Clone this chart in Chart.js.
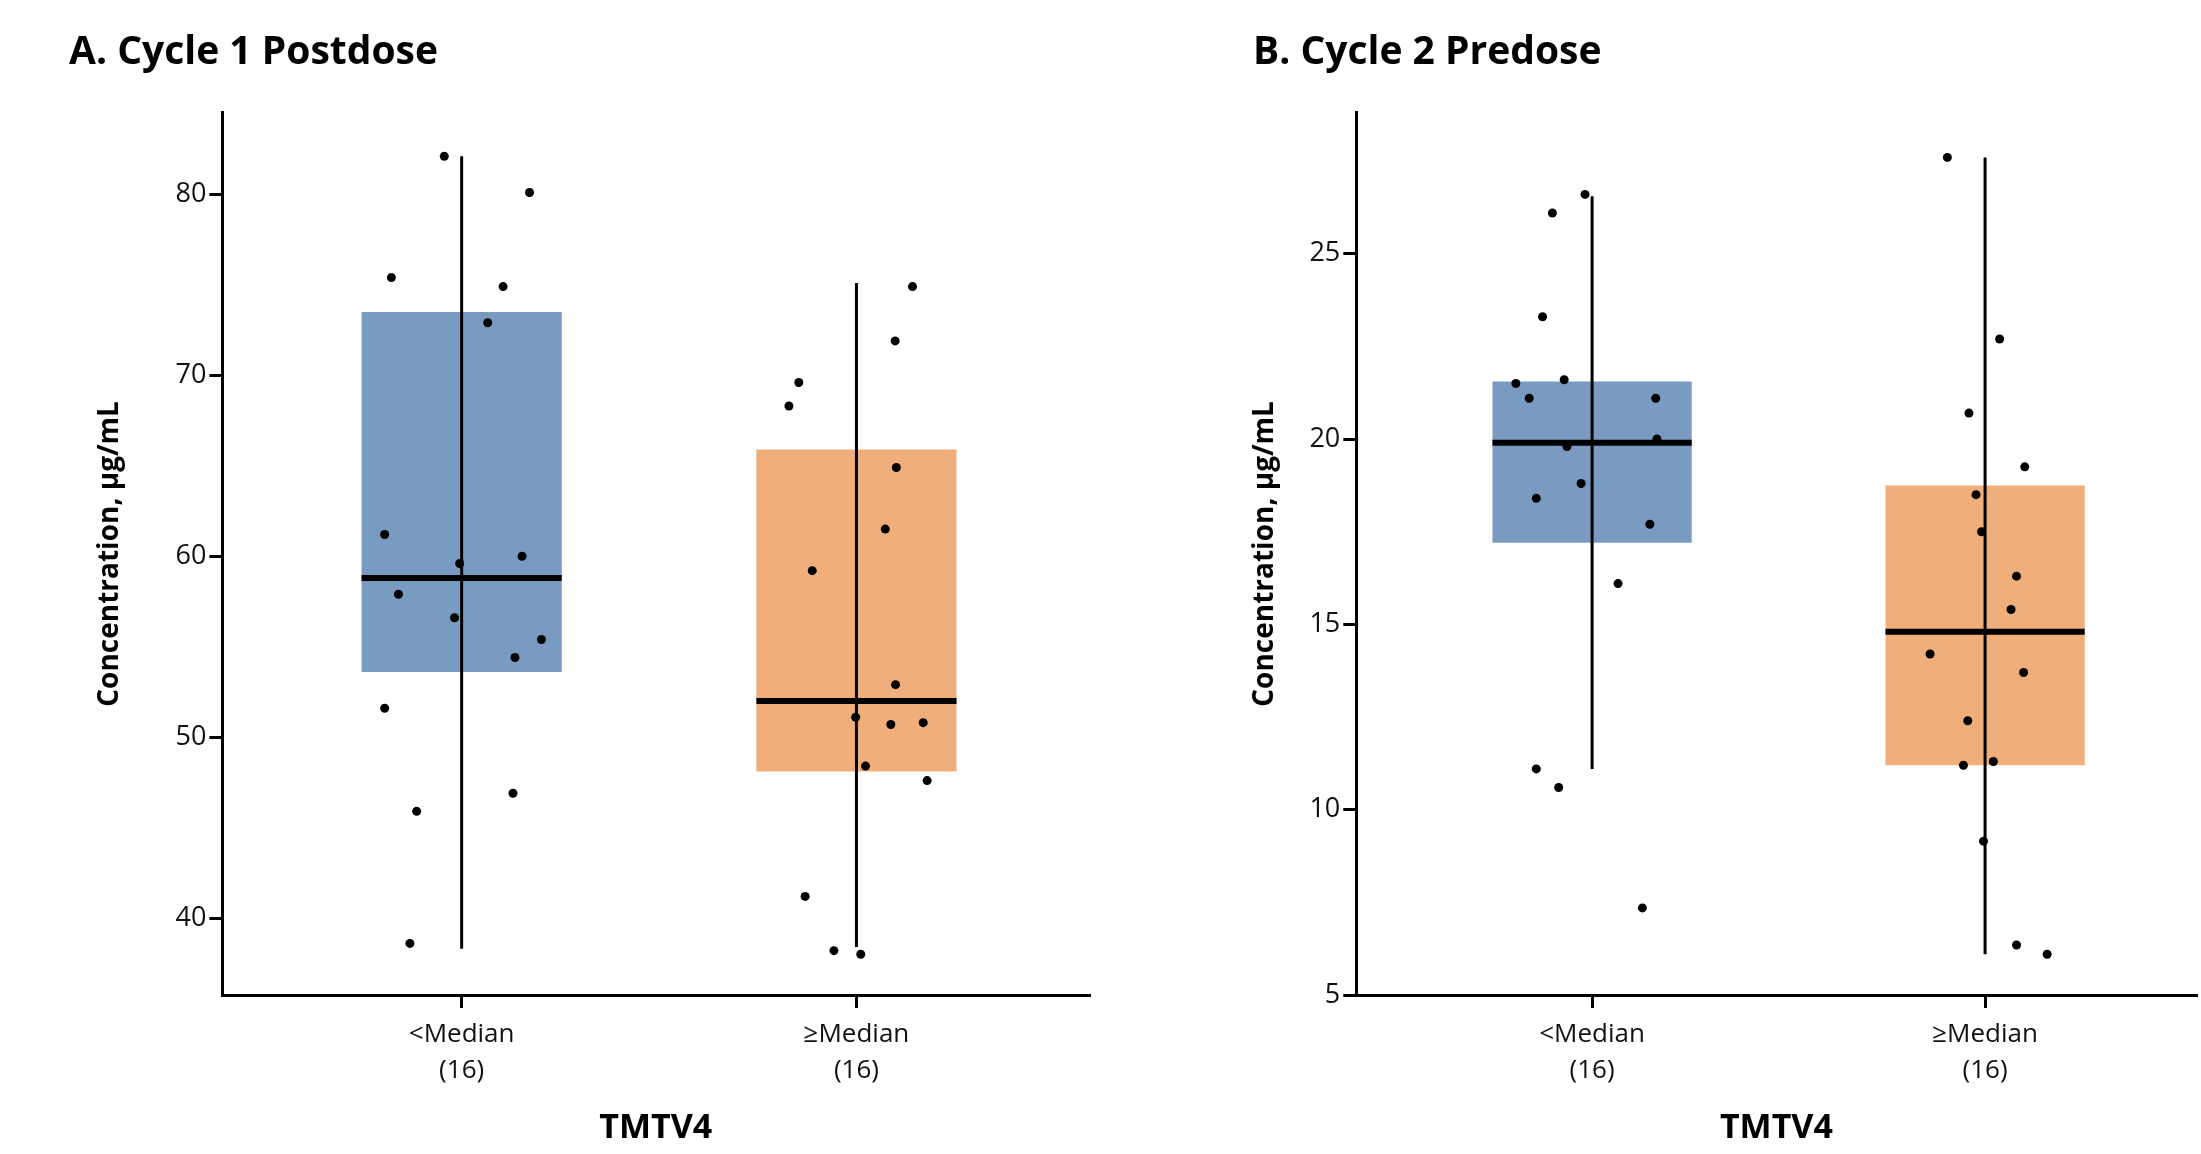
<!DOCTYPE html>
<html>
<head>
<meta charset="utf-8">
<script src="https://cdn.jsdelivr.net/npm/chart.js@4.4.1/dist/chart.umd.min.js"></script>
<style>
  html, body { margin: 0; padding: 0; background: #fff; }
  body { width: 2201px; height: 1154px; position: relative; overflow: hidden; }
  canvas { position: absolute; top: 0; }
  #chartA { left: 0; }
  #chartB { left: 1100px; }
</style>
</head>
<body>
<canvas id="chartA" width="1100" height="1154"></canvas>
<canvas id="chartB" width="1101" height="1154"></canvas>
<script>
// categories on the x axis (numeric slots 1 and 2)
const groupLabels = [['<Median', '(16)'], ['≥Median', '(16)']];
const groupPos = [1, 2];
const boxColors = ['#7A9BC1', '#F0AE7B'];

// A. Cycle 1 postdose, µg/mL
const ptsA_low  = [82.1, 80.1, 75.4, 74.9, 72.9, 61.2, 60.0, 59.6, 57.9, 56.6, 55.4, 54.4, 51.6, 46.9, 45.9, 38.6];
const jitA_low  = [-0.044, 0.172, -0.178, 0.105, 0.066, -0.195, 0.153, -0.005, -0.160, -0.018, 0.202, 0.135, -0.195, 0.130, -0.114, -0.131];
const ptsA_high = [74.9, 71.9, 69.6, 68.3, 64.9, 61.5, 59.2, 52.9, 51.1, 50.8, 50.7, 48.4, 47.6, 41.2, 38.2, 38.0];
const jitA_high = [0.142, 0.098, -0.146, -0.171, 0.101, 0.073, -0.112, 0.099, -0.002, 0.169, 0.087, 0.023, 0.179, -0.130, -0.057, 0.011];
const q1A = [53.6, 48.1];
const q3A = [73.5, 65.9];
const medA = [58.8, 52.0];
const whiskLoA = [38.3, 38.4];
const whiskHiA = [82.1, 75.1];
const yTicksA = [40, 50, 60, 70, 80];

// B. Cycle 2 predose, µg/mL
const ptsB_low  = [26.6, 26.1, 23.3, 21.6, 21.5, 21.1, 21.1, 20.0, 19.8, 18.8, 18.4, 17.7, 16.1, 11.1, 10.6, 7.35];
const jitB_low  = [-0.018, -0.101, -0.126, -0.071, -0.194, -0.160, 0.162, 0.165, -0.064, -0.028, -0.142, 0.147, 0.066, -0.142, -0.085, 0.128];
const ptsB_high = [27.6, 22.7, 20.7, 19.25, 18.5, 17.5, 16.3, 15.4, 14.2, 13.7, 12.4, 11.3, 11.2, 9.15, 6.35, 6.1];
const jitB_high = [-0.096, 0.037, -0.041, 0.101, -0.023, -0.009, 0.080, 0.066, -0.140, 0.098, -0.044, 0.021, -0.055, -0.004, 0.080, 0.158];
const q1B = [17.2, 11.2];
const q3B = [21.55, 18.75];
const medB = [19.9, 14.8];
const whiskLoB = [11.1, 6.1];
const whiskHiB = [26.55, 27.6];
const yTicksB = [5, 10, 15, 20, 25];

const FONT = '"Open Sans", Lato, sans-serif';
const BOX_FRAC = 0.507;          // box width as share of slot spacing
const HALF = BOX_FRAC / 2;

function makePanel(canvasId, cfg) {
  const datasets = [];

  // boxes (q1..q3) as floating bars
  datasets.push({
    type: 'bar',
    data: groupPos.map((x, i) => ({ x: x, y: [cfg.q1[i], cfg.q3[i]] })),
    backgroundColor: boxColors,
    borderWidth: 0,
    barPercentage: BOX_FRAC,
    categoryPercentage: 1,
    order: 3
  });

  groupPos.forEach((x, i) => {
    // whisker
    datasets.push({
      type: 'line',
      data: [{ x: x, y: cfg.lo[i] }, { x: x, y: cfg.hi[i] }],
      borderColor: '#000',
      borderWidth: 3,
      pointRadius: 0,
      order: 2
    });
    // median bar
    datasets.push({
      type: 'line',
      data: [{ x: x - HALF, y: cfg.med[i] }, { x: x + HALF, y: cfg.med[i] }],
      borderColor: '#000',
      borderWidth: 6,
      pointRadius: 0,
      order: 1
    });
    // individual patients
    datasets.push({
      type: 'scatter',
      data: cfg.pts[i].map((v, k) => ({ x: x + cfg.jit[i][k], y: v })),
      backgroundColor: '#000',
      borderWidth: 0,
      pointRadius: 4.5,
      order: 0
    });
  });

  return new Chart(document.getElementById(canvasId), {
    type: 'bar',
    data: { datasets: datasets },
    options: {
      responsive: false,
      animation: false,
      layout: { padding: { left: cfg.padLeft, right: cfg.padRight, top: 0, bottom: 0 } },
      plugins: {
        legend: { display: false },
        tooltip: { enabled: false },
        title: {
          display: true,
          text: cfg.title,
          align: 'start',
          color: '#000',
          font: { family: FONT, size: 39, weight: 'bold', lineHeight: 1.2 },
          padding: { top: 29, bottom: 37.1 }
        }
      },
      scales: {
        x: {
          type: 'linear',
          min: cfg.xMin,
          max: cfg.xMax,
          offset: false,
          afterBuildTicks: s => { s.ticks = groupPos.map(v => ({ value: v })); },
          afterFit: s => { s.height = 159; },
          border: { display: true, color: '#000', width: 3 },
          grid: { display: true, drawOnChartArea: false, drawTicks: true, tickLength: 13, color: '#000', lineWidth: 3, offset: false },
          ticks: {
            color: '#111',
            padding: 8,
            maxRotation: 0,
            font: { family: FONT, size: 26, lineHeight: 1.4 },
            callback: (v, i) => groupLabels[i]
          },
          title: {
            display: true,
            text: 'TMTV4',
            color: '#000',
            font: { family: FONT, size: 34, weight: 'bold', lineHeight: 1.2 },
            padding: { top: 0, bottom: 5 }
          }
        },
        y: {
          type: 'linear',
          min: cfg.yMin,
          max: cfg.yMax,
          afterBuildTicks: s => { s.ticks = cfg.yTicks.map(v => ({ value: v })); },
          afterFit: s => { s.width = cfg.yWidth; },
          border: { display: true, color: '#000', width: 3 },
          grid: { display: true, drawOnChartArea: false, drawTicks: true, tickLength: 13, color: '#000', lineWidth: 3 },
          ticks: {
            color: '#111',
            padding: 3,
            font: { family: FONT, size: 27 },
            callback: v => String(v)
          },
          title: {
            display: true,
            text: 'Concentration, µg/mL',
            color: '#000',
            font: { family: FONT, size: 28, weight: 'bold', lineHeight: 1 },
            padding: { top: cfg.yTitlePad, bottom: 0 }
          }
        }
      }
    }
  });
}

makePanel('chartA', {
  title: 'A. Cycle 1 Postdose',
  pts: [ptsA_low, ptsA_high], jit: [jitA_low, jitA_high],
  q1: q1A, q3: q3A, med: medA, lo: whiskLoA, hi: whiskHiA,
  yTicks: yTicksA, yMin: 35.75, yMax: 84.5,
  xMin: 0.394, xMax: 2.589,
  padLeft: 69, padRight: 11, yWidth: 153.4, yTitlePad: 27
});

makePanel('chartB', {
  title: 'B. Cycle 2 Predose',
  pts: [ptsB_low, ptsB_high], jit: [jitB_low, jitB_high],
  q1: q1B, q3: q3B, med: medB, lo: whiskLoB, hi: whiskHiB,
  yTicks: yTicksB, yMin: 5, yMax: 28.8,
  xMin: 0.40, xMax: 2.538,
  padLeft: 153, padRight: 0, yWidth: 103.3, yTitlePad: -2
});
</script>
</body>
</html>
